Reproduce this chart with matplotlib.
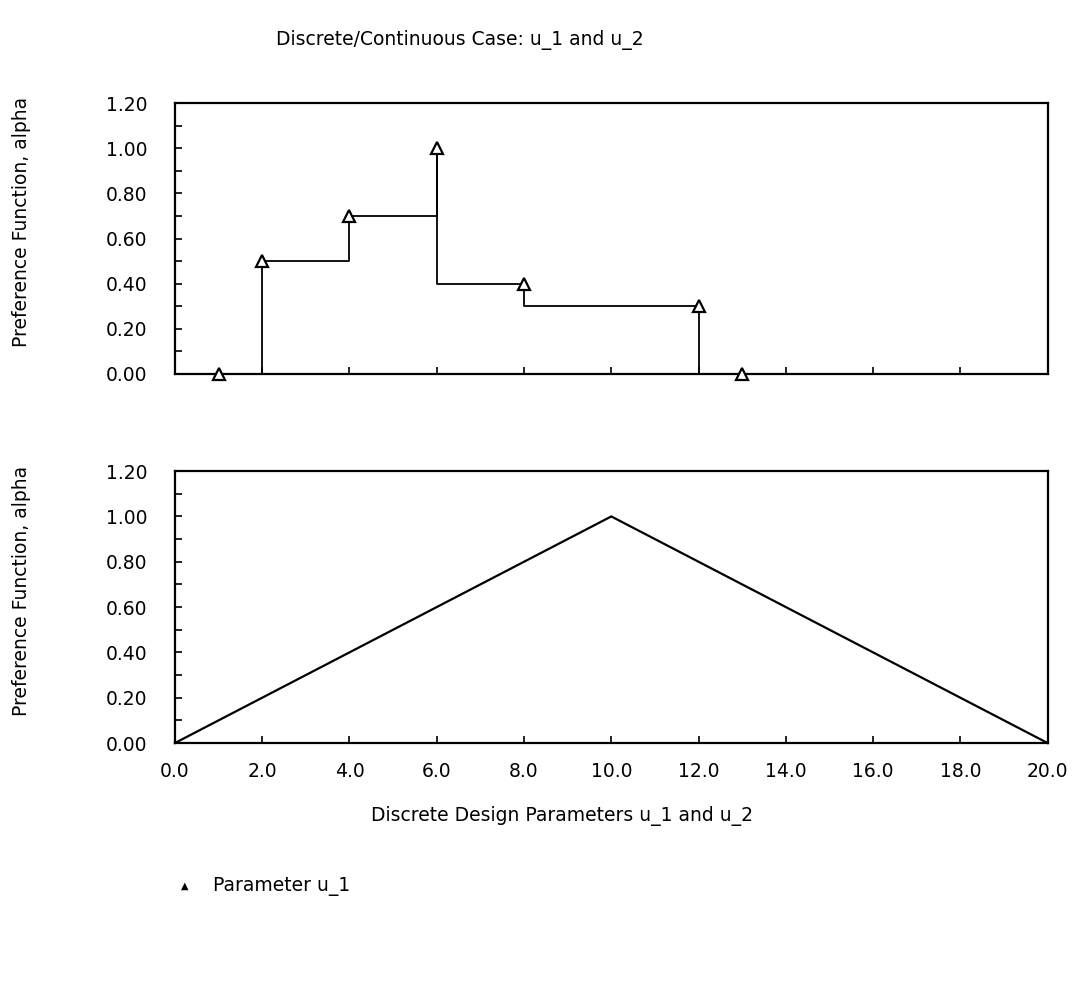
import numpy as np
import matplotlib
matplotlib.use("Agg")
import matplotlib.pyplot as plt
from matplotlib.ticker import MultipleLocator, FormatStrFormatter

plt.rcParams["font.family"] = ["DejaVu Sans"]

# parameter u_1: discrete points and the stepped preference function
u1_x = [1, 2, 4, 6, 8, 12, 13]
u1_alpha = [0.0, 0.5, 0.7, 1.0, 0.4, 0.3, 0.0]
step_x = [2, 2, 4, 4, 6, 6, 6, 8, 8, 12, 12]
step_alpha = [0.0, 0.5, 0.5, 0.7, 0.7, 1.0, 0.4, 0.4, 0.3, 0.3, 0.0]

# parameter u_2: continuous triangular preference
u2_x = [0, 10, 20]
u2_alpha = [0.0, 1.0, 0.0]

title = "Discrete/Continuous Case: u_1 and u_2"
ylab = "Preference Function, alpha"
xlab = "Discrete Design Parameters u_1 and u_2"
FS = 13.5

fig = plt.figure(figsize=(10.8, 9.96), dpi=100)
ax1 = fig.add_axes([0.162, 0.6245, 0.808, 0.272])
ax2 = fig.add_axes([0.162, 0.254, 0.808, 0.273])

ax1.plot(step_x, step_alpha, color="black", lw=1.3)
ax1.plot(u1_x, u1_alpha, ls="none", marker="^", ms=9, mfc="white",
         mec="black", mew=1.6, clip_on=False, zorder=5)
ax2.plot(u2_x, u2_alpha, color="black", lw=1.6, clip_on=False)

for ax in (ax1, ax2):
    ax.set_xlim(0, 20)
    ax.set_ylim(0, 1.2)
    ax.xaxis.set_major_locator(MultipleLocator(2))
    ax.yaxis.set_major_locator(MultipleLocator(0.2))
    ax.yaxis.set_minor_locator(MultipleLocator(0.1))
    ax.yaxis.set_major_formatter(FormatStrFormatter("%.2f"))
    ax.xaxis.set_major_formatter(FormatStrFormatter("%.1f"))
    ax.tick_params(which="both", direction="in", length=5, width=1.2,
                   labelsize=FS, color="black")
    ax.tick_params(axis="y", pad=20)
    ax.tick_params(axis="x", pad=14)
    for s in ax.spines.values():
        s.set_linewidth(1.6)
    ax.set_ylabel(ylab, fontsize=FS)
    ax.yaxis.set_label_coords(-0.165, 0.56)

ax1.tick_params(axis="x", labelbottom=False)

fig.text(460 / 1080, 1 - 40 / 996, title, ha="center", va="center", fontsize=FS)
fig.text(562 / 1080, 1 - 816 / 996, xlab, ha="center", va="center", fontsize=FS)

# legend entry
fig.text(185 / 1080, 1 - 886 / 996, "\u25b2", ha="center", va="center", fontsize=7)
fig.text(213 / 1080, 1 - 886 / 996, "Parameter u_1", ha="left", va="center", fontsize=FS)

fig.savefig("out.png", dpi=100, facecolor="white")
